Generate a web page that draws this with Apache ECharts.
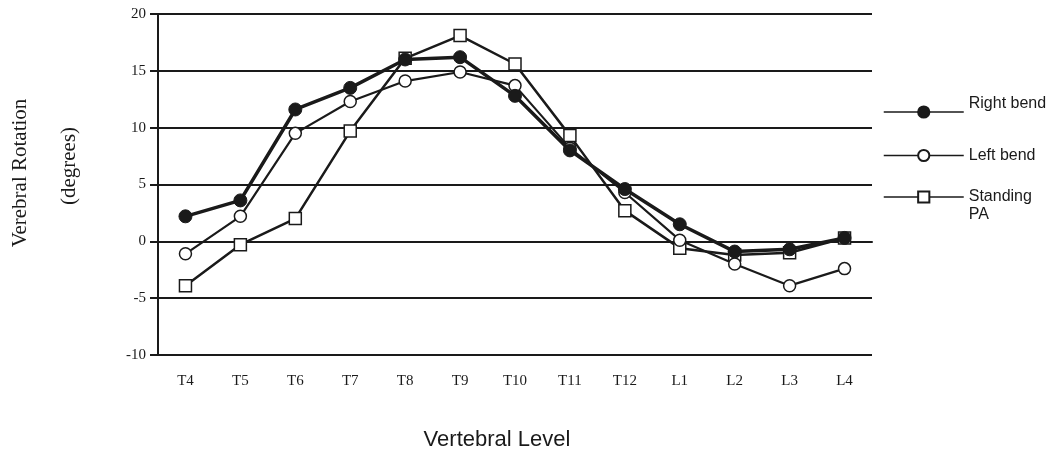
<!DOCTYPE html>
<html>
<head>
<meta charset="utf-8">
<script src="https://cdn.jsdelivr.net/npm/echarts@6/dist/echarts.min.js"></script>
<style>
  html, body { margin: 0; padding: 0; background: #fff; }
  #chart { width: 1064px; height: 456px; }
</style>
</head>
<body>
<div id="chart"></div>
<script>
const levels = ['T4', 'T5', 'T6', 'T7', 'T8', 'T9', 'T10', 'T11', 'T12', 'L1', 'L2', 'L3', 'L4'];
const rightBend = [2.2, 3.6, 11.6, 13.5, 16.0, 16.2, 12.8, 8.0, 4.6, 1.5, -0.9, -0.7, 0.3];
const leftBend = [-1.1, 2.2, 9.5, 12.3, 14.1, 14.9, 13.7, 8.2, 4.3, 0.1, -2.0, -3.9, -2.4];
const standingPA = [-3.9, -0.3, 2.0, 9.7, 16.1, 18.1, 15.6, 9.3, 2.7, -0.6, -1.2, -1.0, 0.3];

const serif = '"Liberation Serif", "DejaVu Serif", serif';
const sans = '"Liberation Sans", Arial, sans-serif';
const ink = '#1a1a1a';

const chart = echarts.init(document.getElementById('chart'));

// one legend per entry so each can sit where the original puts it
function legendAt(name, top, label, lineHeight) {
  return {
    data: [name],
    left: 883,
    top: top,
    orient: 'horizontal',
    itemWidth: 80,
    itemHeight: 14,
    itemGap: 0,
    padding: 0,
    selectedMode: false,
    lineStyle: { width: 1.5, color: ink },
    formatter: () => label,
    textStyle: { fontFamily: sans, fontSize: 16, color: ink, lineHeight: lineHeight || 17 }
  };
}

const options = {
  animation: false,
  grid: { left: 158, right: 192, top: 14, bottom: 101 },
  legend: [
    legendAt('Right bend', 95, 'Right bend\n '),
    legendAt('Left bend', 147, 'Left bend'),
    legendAt('Standing PA', 170, ' \nStanding\nPA', 18)
  ],
  xAxis: {
    type: 'category',
    data: levels,
    boundaryGap: true,
    axisLine: { lineStyle: { color: ink, width: 2 } },
    axisTick: { alignWithLabel: true, length: 10, lineStyle: { color: ink, width: 2 } },
    axisLabel: { fontFamily: serif, fontSize: 15, color: ink, margin: 19 },
    splitLine: { show: false }
  },
  yAxis: {
    type: 'value',
    min: -10,
    max: 20,
    interval: 5,
    axisLine: { show: true, lineStyle: { color: ink, width: 2 } },
    axisTick: { show: true, length: 8, lineStyle: { color: ink, width: 2 } },
    axisLabel: { fontFamily: serif, fontSize: 15, color: ink, margin: 12 },
    splitLine: { lineStyle: { color: ink, width: 2 } }
  },
  graphic: [
    {
      type: 'text', x: 20, y: 173, rotation: Math.PI / 2,
      style: { text: 'Verebral Rotation', font: '21px ' + serif, fill: ink, align: 'center', verticalAlign: 'middle' }
    },
    {
      type: 'text', x: 69, y: 166, rotation: Math.PI / 2,
      style: { text: '(degrees)', font: '21px ' + serif, fill: ink, align: 'center', verticalAlign: 'middle' }
    },
    {
      type: 'text', x: 497, y: 440,
      style: { text: 'Vertebral Level', font: '22px ' + sans, fill: ink, align: 'center', verticalAlign: 'middle' }
    }
  ],
  series: [
    {
      name: 'Standing PA',
      type: 'line',
      data: standingPA,
      symbol: 'rect',
      symbolSize: 12,
      lineStyle: { color: ink, width: 2.5 },
      itemStyle: { color: '#fff', borderColor: ink, borderWidth: 1.5 },
      z: 2
    },
    {
      name: 'Left bend',
      type: 'line',
      data: leftBend,
      symbol: 'circle',
      symbolSize: 12,
      lineStyle: { color: ink, width: 2.2 },
      itemStyle: { color: '#fff', borderColor: ink, borderWidth: 1.5 },
      z: 3
    },
    {
      name: 'Right bend',
      type: 'line',
      data: rightBend,
      symbol: 'circle',
      symbolSize: 13,
      lineStyle: { color: ink, width: 3.5 },
      itemStyle: { color: ink, borderColor: ink, borderWidth: 1 },
      z: 4
    }
  ]
};

chart.setOption(options);
</script>
</body>
</html>
